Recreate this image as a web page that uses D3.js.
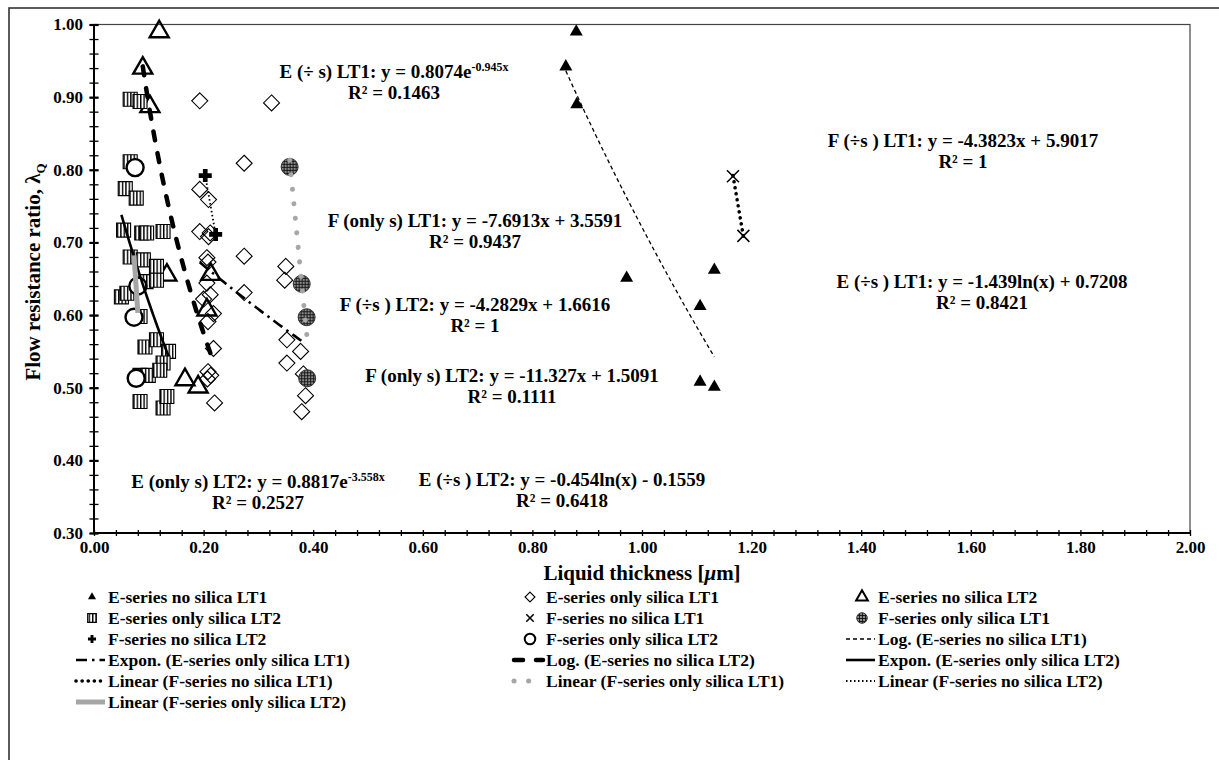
<!DOCTYPE html>
<html>
<head>
<meta charset="utf-8">
<script src="https://cdn.jsdelivr.net/npm/d3@7"></script>
<style>
body { margin: 0; background: #fff; }
svg text { font-family: "Liberation Serif", "Times New Roman", serif; font-weight: bold; fill: #000; }
</style>
</head>
<body>
<div id="chart"></div>
<script>
// ---- data ----
const eNoSilicaLT1 = [[0.861,0.942],[0.880,0.990],[0.881,0.890],[0.972,0.651],[1.106,0.612],[1.132,0.662],[1.106,0.508],[1.132,0.501]];
const eOnlySilicaLT1 = [[0.193,0.895],[0.324,0.892],[0.274,0.809],[0.193,0.773],[0.209,0.759],[0.193,0.715],[0.209,0.708],[0.212,0.713],
  [0.274,0.681],[0.206,0.679],[0.350,0.667],[0.208,0.673],[0.348,0.648],[0.206,0.644],[0.274,0.631],[0.200,0.622],[0.212,0.628],
  [0.218,0.602],[0.208,0.591],[0.352,0.566],[0.377,0.550],[0.352,0.534],[0.218,0.554],[0.208,0.522],[0.213,0.517],[0.207,0.512],
  [0.220,0.479],[0.382,0.519],[0.386,0.489],[0.379,0.467]];
const eNoSilicaLT2 = [[0.119,0.990],[0.089,0.940],[0.102,0.887],[0.133,0.655],[0.213,0.656],[0.206,0.607],[0.166,0.511],[0.190,0.501]];
const eOnlySilicaLT2 = [[0.066,0.897],[0.084,0.894],[0.066,0.811],[0.057,0.774],[0.077,0.761],[0.054,0.717],[0.087,0.713],[0.096,0.713],
  [0.126,0.715],[0.066,0.680],[0.090,0.676],[0.114,0.667],[0.095,0.646],[0.114,0.648],[0.050,0.625],[0.060,0.630],[0.084,0.598],
  [0.093,0.556],[0.114,0.566],[0.136,0.550],[0.126,0.534],[0.084,0.517],[0.099,0.517],[0.120,0.524],[0.084,0.481],[0.126,0.472],[0.133,0.488]];
const fNoSilicaLT1 = [[1.166,0.791],[1.185,0.709]];
const fOnlySilicaLT1 = [[0.357,0.804],[0.379,0.643],[0.388,0.597],[0.389,0.513]];
const fNoSilicaLT2 = [[0.203,0.792],[0.222,0.711]];
const fOnlySilicaLT2 = [[0.075,0.803],[0.080,0.640],[0.073,0.597],[0.077,0.513]];

const seriesData = [eNoSilicaLT1, eOnlySilicaLT1, eNoSilicaLT2, eOnlySilicaLT2, fNoSilicaLT1, fOnlySilicaLT1, fNoSilicaLT2, fOnlySilicaLT2];
const seriesNames = ['E-series no silica LT1', 'E-series only silica LT1', 'E-series no silica LT2', 'E-series only silica LT2',
  'F-series no silica LT1', 'F-series only silica LT1', 'F-series no silica LT2', 'F-series only silica LT2'];

// trendlines, one per series, same order
const trendTypes = ['log', 'exp', 'log', 'exp', 'linear', 'linear', 'linear', 'linear'];
const trendCoef = [[-1.439, 0.7208], [0.8074, -0.945], [-0.454, -0.1559], [0.8817, -3.558], [-4.3823, 5.9017], [-7.6913, 3.5591], [-4.2829, 1.6616], [-11.327, 1.5091]];
const trendNames = ['Log. (E-series no silica LT1)', 'Expon. (E-series only silica LT1)', 'Log. (E-series no silica LT2)', 'Expon. (E-series only silica LT2)',
  'Linear (F-series no silica LT1)', 'Linear (F-series only silica LT1)', 'Linear (F-series no silica LT2)', 'Linear (F-series only silica LT2)'];

// equation labels: main text, superscript, R² line
const eqMain = ['E (÷s ) LT1: y = -1.439ln(x) + 0.7208', 'E (÷ s) LT1: y = 0.8074e', 'E (÷s ) LT2: y = -0.454ln(x) - 0.1559', 'E (only s) LT2: y = 0.8817e',
  'F (÷s ) LT1: y = -4.3823x + 5.9017', 'F (only s) LT1: y = -7.6913x + 3.5591', 'F (÷s ) LT2: y = -4.2829x + 1.6616', 'F (only s) LT2: y = -11.327x + 1.5091'];
const eqSup = ['', '-0.945x', '', '-3.558x', '', '', '', ''];
const eqR2 = ['R² = 0.8421', 'R² = 0.1463', 'R² = 0.6418', 'R² = 0.2527', 'R² = 1', 'R² = 0.9437', 'R² = 1', 'R² = 0.1111'];

const xTickValues = [0, 0.2, 0.4, 0.6, 0.8, 1.0, 1.2, 1.4, 1.6, 1.8, 2.0];
const yTickValues = [0.3, 0.4, 0.5, 0.6, 0.7, 0.8, 0.9, 1.0];

// ---- layout ----
const W = 1219, H = 760;
const eqPos = [[982, 282], [394, 72], [562, 480], [258, 482], [963, 141], [475, 221], [475, 305], [512, 376]];

const svg = d3.select('#chart').append('svg').attr('width', W).attr('height', H);

const defs = svg.append('defs');
const stripe = defs.append('pattern').attr('id', 'vstripe').attr('patternUnits', 'userSpaceOnUse')
    .attr('width', 3.4).attr('height', 4);
stripe.append('rect').attr('width', 3.4).attr('height', 4).attr('fill', '#fff');
stripe.append('rect').attr('x', 0).attr('width', 1.4).attr('height', 4).attr('fill', '#000');
const grid = defs.append('pattern').attr('id', 'grid').attr('patternUnits', 'userSpaceOnUse')
    .attr('width', 3).attr('height', 3);
grid.append('rect').attr('width', 3).attr('height', 3).attr('fill', '#8a8a8a');
grid.append('path').attr('d', 'M0,0.5H3M0.5,0V3').attr('stroke', '#111').attr('stroke-width', 0.9);

// outer frame
svg.append('rect').attr('x', 9).attr('y', 8).attr('width', 1300).attr('height', 800)
    .attr('fill', 'none').attr('stroke', '#333').attr('stroke-width', 1.6);

const x = d3.scaleLinear().domain([0, 2]).range([94, 1190]);
const y = d3.scaleLinear().domain([0.3, 1]).range([533, 24.5]);

// plot area border
svg.append('rect').attr('x', x(0)).attr('y', y(1)).attr('width', x(2) - x(0)).attr('height', y(0.3) - y(1))
    .attr('fill', 'none').attr('stroke', '#444').attr('stroke-width', 1.2);

// minor/major ticks crossing the axes
const yMinor = svg.append('g').attr('transform', 'translate(' + (x(0) + 4.5) + ',0)')
    .call(d3.axisLeft(y).tickValues(d3.range(0.3, 1.0001, 0.02)).tickSize(9).tickFormat(''));
yMinor.select('.domain').remove();
yMinor.selectAll('line').attr('stroke', '#000').attr('stroke-width', 1.3);
const yMajor = svg.append('g').attr('transform', 'translate(' + (x(0) + 4.5) + ',0)')
    .call(d3.axisLeft(y).tickValues(yTickValues).tickSize(9).tickFormat(''));
yMajor.select('.domain').remove();
yMajor.selectAll('line').attr('stroke', '#000').attr('stroke-width', 2.2);

const xMinor = svg.append('g').attr('transform', 'translate(0,' + (y(0.3) - 3) + ')')
    .call(d3.axisBottom(x).tickValues(d3.range(0, 2.0001, 0.04)).tickSize(6).tickFormat(''));
xMinor.select('.domain').remove();
xMinor.selectAll('line').attr('stroke', '#000').attr('stroke-width', 1.3);

// axis lines
svg.append('line').attr('x1', x(0)).attr('x2', x(0)).attr('y1', y(1)).attr('y2', y(0.3)).attr('stroke', '#000').attr('stroke-width', 2);
svg.append('line').attr('x1', x(0)).attr('x2', x(2)).attr('y1', y(0.3)).attr('y2', y(0.3)).attr('stroke', '#000').attr('stroke-width', 2);

// tick labels
const yLab = svg.append('g').attr('transform', 'translate(' + x(0) + ',0)')
    .call(d3.axisLeft(y).tickValues(yTickValues).tickSize(0).tickPadding(11).tickFormat(d3.format('.2f')));
yLab.select('.domain').remove();
yLab.selectAll('text').style('font-size', '17px').style('font-family', '"Liberation Serif", serif').style('font-weight', 'bold');

const xLab = svg.append('g').attr('transform', 'translate(0,' + y(0.3) + ')')
    .call(d3.axisBottom(x).tickValues(xTickValues).tickSize(0).tickPadding(8).tickFormat(d3.format('.2f')));
xLab.select('.domain').remove();
xLab.selectAll('text').style('font-size', '17px').style('font-family', '"Liberation Serif", serif').style('font-weight', 'bold');

// axis titles
const yt = svg.append('text').attr('transform', 'translate(40,272) rotate(-90)').attr('text-anchor', 'middle')
    .style('font-size', '21px');
yt.append('tspan').text('Flow resistance ratio, λ');
yt.append('tspan').attr('dy', 5).style('font-size', '13px').text('Q');

const xt = svg.append('text').attr('x', (x(0) + x(2)) / 2).attr('y', 580).attr('text-anchor', 'middle').style('font-size', '21px');
xt.append('tspan').text('Liquid thickness [');
xt.append('tspan').style('font-style', 'italic').text('μ');
xt.append('tspan').text('m]');

// ---- markers ----
const circ = r => `M${r},0A${r},${r} 0 1,1 ${-r},0A${r},${r} 0 1,1 ${r},0Z`;
const markerStyles = [
    {d: s => `M0,${-0.58 * s}L${0.5 * s},${0.29 * s}L${-0.5 * s},${0.29 * s}Z`, size: 13, fill: '#000', stroke: 'none', sw: 0},
    {d: s => `M0,${-s / 2}L${s / 2},0L0,${s / 2}L${-s / 2},0Z`, size: 16, fill: 'none', stroke: '#000', sw: 1.1},
    {d: s => `M0,${-0.58 * s}L${0.5 * s},${0.29 * s}L${-0.5 * s},${0.29 * s}Z`, size: 19, fill: 'none', stroke: '#000', sw: 2.4},
    {d: s => `M${-s / 2},${-s / 2}H${s / 2}V${s / 2}H${-s / 2}Z`, size: 14, fill: 'url(#vstripe)', stroke: '#000', sw: 1.1},
    {d: s => `M${-s / 2},${-s / 2}L${s / 2},${s / 2}M${s / 2},${-s / 2}L${-s / 2},${s / 2}`, size: 12, fill: 'none', stroke: '#000', sw: 1.5},
    {d: s => circ(s / 2), size: 17, fill: 'url(#grid)', stroke: '#333', sw: 1},
    {d: s => { const a = s / 2, t = s * 0.18; return `M${-t},${-a}H${t}V${-t}H${a}V${t}H${t}V${a}H${-t}V${t}H${-a}V${-t}H${-t}Z`; }, size: 13, fill: '#000', stroke: 'none', sw: 0},
    {d: s => circ(s / 2), size: 17, fill: '#fff', stroke: '#000', sw: 2.4}
];

const points = svg.append('g');
seriesData.forEach((data, i) => {
    const m = markerStyles[i];
    points.append('g').selectAll('path')
        .data(data)
        .enter()
        .append('path')
        .attr('transform', d => 'translate(' + x(d[0]) + ',' + y(d[1]) + ')')
        .attr('d', m.d(m.size))
        .attr('fill', m.fill)
        .attr('stroke', m.stroke)
        .attr('stroke-width', m.sw);
});

// ---- trendlines ----
const trendFn = {
    log: (c, v) => c[0] * Math.log(v) + c[1],
    exp: (c, v) => c[0] * Math.exp(c[1] * v),
    linear: (c, v) => c[0] * v + c[1]
};
const trendStyles = [
    {stroke: '#000', sw: 1.3, dash: '4,3', cap: 'butt'},
    {stroke: '#000', sw: 2.6, dash: '11,5,2.5,5', cap: 'butt'},
    {stroke: '#000', sw: 4.5, dash: '9,13', cap: 'round'},
    {stroke: '#000', sw: 2.6, dash: null, cap: 'butt'},
    {stroke: '#000', sw: 3.6, dash: '0.1,6', cap: 'round'},
    {stroke: '#a6a6a6', sw: 5, dash: '0.1,14.5', cap: 'round'},
    {stroke: '#000', sw: 1.8, dash: '1.5,2.5', cap: 'butt'},
    {stroke: '#a6a6a6', sw: 5, dash: null, cap: 'butt'}
];
const line = d3.line().x(d => x(d[0])).y(d => y(d[1]));
const trends = svg.append('g');
trendTypes.forEach((t, i) => {
    const ext = d3.extent(seriesData[i], d => d[0]);
    const pts = d3.range(0, 41).map(k => {
        const v = ext[0] + (ext[1] - ext[0]) * k / 40;
        return [v, trendFn[t](trendCoef[i], v)];
    });
    const st = trendStyles[i];
    trends.append('path').datum(pts).attr('d', line).attr('fill', 'none')
        .attr('stroke', st.stroke).attr('stroke-width', st.sw)
        .attr('stroke-dasharray', st.dash).attr('stroke-linecap', st.cap);
});

// ---- equation labels ----
eqMain.forEach((txt, i) => {
    const [cx, cy] = eqPos[i];
    const t1 = svg.append('text').attr('x', cx).attr('y', cy + 6).attr('text-anchor', 'middle').style('font-size', '19px');
    t1.append('tspan').text(txt);
    if (eqSup[i]) t1.append('tspan').attr('dy', -7).style('font-size', '12px').text(eqSup[i]);
    svg.append('text').attr('x', cx).attr('y', cy + 27).attr('text-anchor', 'middle').style('font-size', '19px').text(eqR2[i]);
});

// ---- legend ----
const legCols = [92, 530, 862];
const legTop = 597, legRow = 21;
const legend = svg.append('g');
const entries = seriesNames.map((n, i) => ({kind: 'marker', i: i, name: n}))
    .concat(trendNames.map((n, i) => ({kind: 'trend', i: i, name: n})));
entries.forEach((e, k) => {
    const cx = legCols[k % 3], cy = legTop + legRow * Math.floor(k / 3);
    if (e.kind === 'marker') {
        const m = markerStyles[e.i];
        legend.append('path').attr('transform', 'translate(' + cx + ',' + cy + ')')
            .attr('d', m.d(m.size * 0.62)).attr('fill', m.fill).attr('stroke', m.stroke)
            .attr('stroke-width', Math.min(m.sw, 2));
    } else {
        const st = trendStyles[e.i];
        legend.append('line').attr('x1', cx - 16).attr('x2', cx + 13).attr('y1', cy).attr('y2', cy)
            .attr('stroke', st.stroke).attr('stroke-width', st.sw).attr('stroke-dasharray', st.dash)
            .attr('stroke-linecap', st.cap);
    }
    legend.append('text').attr('x', cx + 16).attr('y', cy + 6).style('font-size', '17.5px').text(e.name);
});
</script>
</body>
</html>
